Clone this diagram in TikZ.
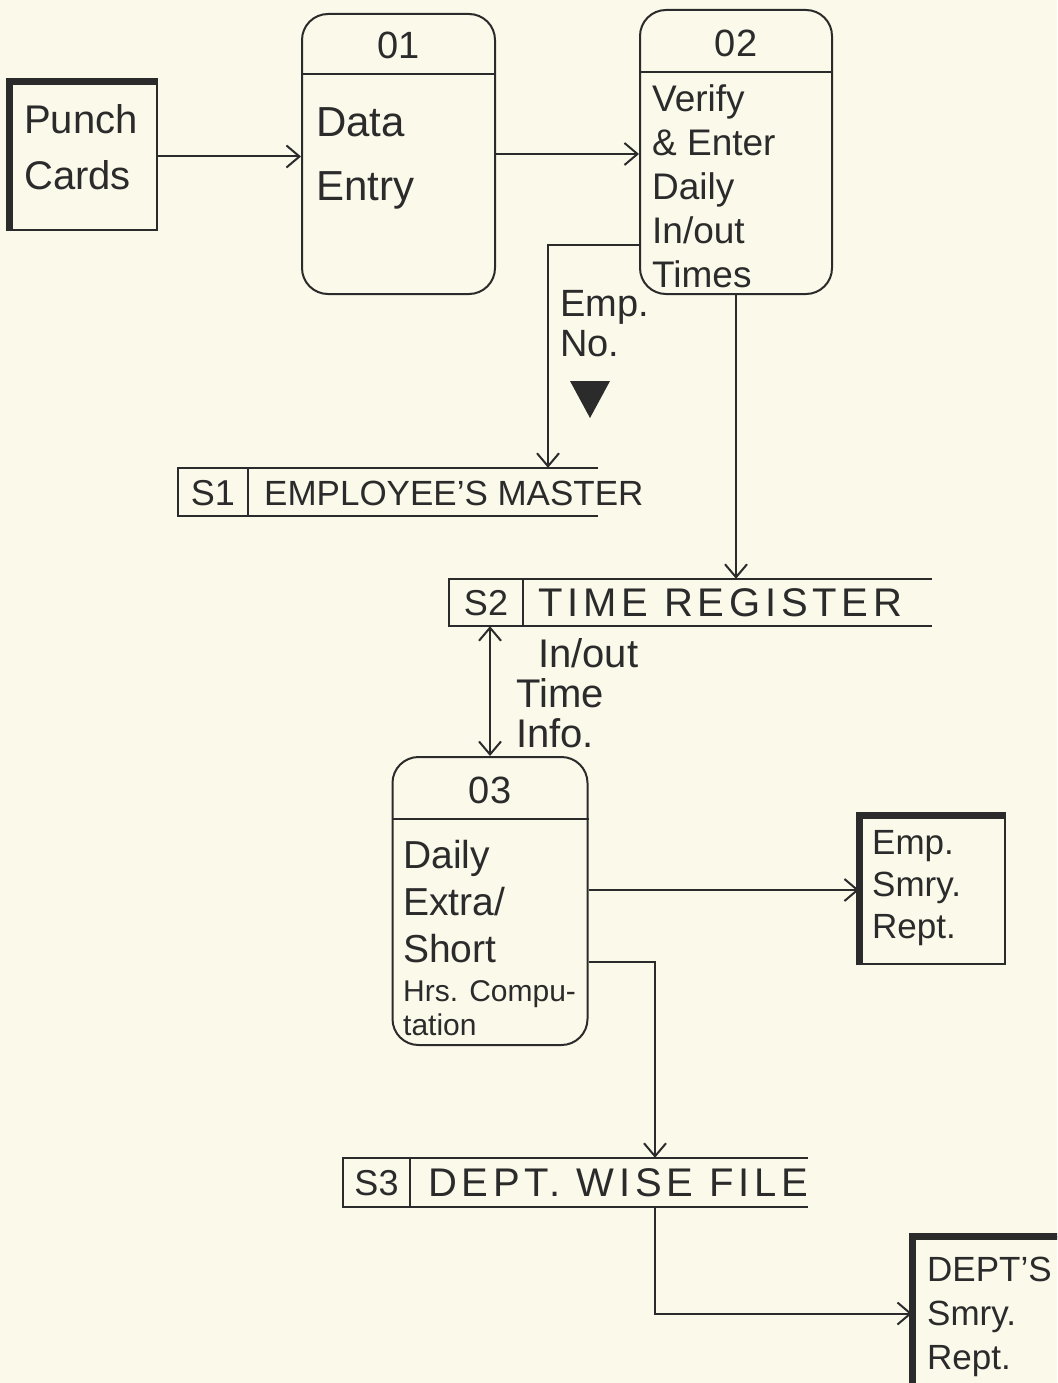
\documentclass[tikz,border=0pt]{standalone}
\usepackage{fontspec}
\setmainfont{Liberation Sans}
\usetikzlibrary{arrows.meta,calc}
\definecolor{ink}{HTML}{2B2B2B}
\definecolor{paper}{HTML}{FBF9EA}
\tikzset{
  ln/.style={draw=ink,line width=2pt},
  arr/.style={ln,-{Straight Barb[length=13pt,width=22pt,line width=2pt]}},
  barr/.style={ln,{Straight Barb[length=13pt,width=22pt,line width=2pt]}-{Straight Barb[length=13pt,width=22pt,line width=2pt]}},
  ext/.style={draw=ink,line width=2pt,rectangle,inner sep=0pt},
  thickedge/.style={draw=ink,line width=7pt,line cap=butt,line join=miter},
  proc/.style={draw=ink,line width=2pt,rectangle,rounded corners=26pt,inner sep=0pt},
  store/.style={rectangle,inner sep=0pt},
  txt/.style={text=ink,inner sep=0pt,align=left,font=\fontsize{38}{45}\selectfont},
  idtxt/.style={text=ink,inner sep=0pt,font=\fontsize{38}{45}\selectfont},
  stxt/.style={text=ink,inner sep=0pt,font=\fontsize{36}{40}\selectfont},
}
\begin{document}
\begin{tikzpicture}[x=1pt,y=-1pt]
\fill[paper] (0,0) rectangle (1057,1383);
\useasboundingbox (0,0) rectangle (1057,1383);
\clip (0,0) rectangle (1057,1383);

% external entity: Punch Cards
\node[ext,minimum width=147pt,minimum height=147pt] (pc) at (83.5,156.5) {};
\draw[thickedge] (pc.south west) -- (pc.north west) -- (pc.north east);
\node[txt,anchor=north west,font=\fontsize{40}{56}\selectfont] (pctxt) at (24,104) {Punch\\Cards};

% process 01
\node[proc,minimum width=193pt,minimum height=280pt] (p1) at (398.5,154) {};
\draw[ln] ([yshift=-61pt]p1.north west) -- ([yshift=-61pt]p1.north east);
\node[idtxt] (p1id) at (398.5,45) {01};
\node[txt,anchor=north west,font=\fontsize{42}{64}\selectfont] (p1txt) at (316,107) {Data\\Entry};

% process 02
\node[proc,minimum width=192pt,minimum height=284pt] (p2) at (736,152) {};
\draw[ln] ([yshift=-63pt]p2.north west) -- ([yshift=-63pt]p2.north east);
\node[idtxt] (p2id) at (736,43) {02};
\node[txt,anchor=north west,font=\fontsize{37}{44}\selectfont] (p2txt) at (652,84) {Verify\\\& Enter\\Daily\\In/out\\Times};

% process 03
\node[proc,minimum width=195pt,minimum height=288pt] (p3) at (490,901) {};
\draw[ln] ([yshift=-63pt]p3.north west) -- ([yshift=-63pt]p3.north east);
\node[idtxt] (p3id) at (490,790) {03};
\node[txt,anchor=north west,font=\fontsize{39}{47}\selectfont] (p3txt) at (403,840) {Daily\\Extra/\\Short};
\node[txt,anchor=north west,font=\fontsize{30}{34}\selectfont] (p3txtb) at (403,980) {Hrs. Compu-\\tation};

% data store S1
\node[store,minimum width=420pt,minimum height=48pt] (s1) at (388,492) {};
\draw[ln] (s1.north east) -- (s1.north west) -- (s1.south west) -- (s1.south east);
\draw[ln] ([xshift=70pt]s1.north west) -- ([xshift=70pt]s1.south west);
\node[stxt] (s1id) at (213,493) {S1};
\node[stxt,anchor=west,font=\fontsize{35}{38}\selectfont] (s1txt) at (264,493) {EMPLOYEE'S MASTER};

% data store S2
\node[store,minimum width=483pt,minimum height=47pt] (s2) at (690.5,602.5) {};
\draw[ln] (s2.north east) -- (s2.north west) -- (s2.south west) -- (s2.south east);
\draw[ln] ([xshift=74pt]s2.north west) -- ([xshift=74pt]s2.south west);
\node[stxt] (s2id) at (486,603) {S2};
\node[stxt,anchor=west,font=\fontsize{40}{46}\selectfont\addfontfeatures{LetterSpace=12}] (s2txt) at (538,603) {TIME REGISTER};

% data store S3
\node[store,minimum width=465pt,minimum height=49pt] (s3) at (575.5,1182.5) {};
\draw[ln] (s3.north east) -- (s3.north west) -- (s3.south west) -- (s3.south east);
\draw[ln] ([xshift=67pt]s3.north west) -- ([xshift=67pt]s3.south west);
\node[stxt] (s3id) at (376.5,1183) {S3};
\node[stxt,anchor=west,font=\fontsize{40}{46}\selectfont\addfontfeatures{LetterSpace=12}] (s3txt) at (428,1183) {DEPT. WISE FILE};

% external entity: Emp. Smry. Rept.
\node[ext,minimum width=145pt,minimum height=147pt] (er) at (932.5,890) {};
\draw[thickedge] (er.south west) -- (er.north west) -- (er.north east);
\node[txt,anchor=north west,font=\fontsize{35}{42}\selectfont] (ertxt) at (872,830) {Emp.\\Smry.\\Rept.};

% external entity: DEPT'S Smry. Rept.
\node[ext,minimum width=152pt,minimum height=153pt] (dr) at (989,1313.5) {};
\draw[thickedge] (dr.south west) -- (dr.north west) -- (dr.north east);
\node[txt,anchor=north west,font=\fontsize{35}{44}\selectfont] (drtxt) at (927,1257) {DEPT'S\\Smry.\\Rept.};

% connectors
\draw[arr] (pc.east) -- (pc.east -| p1.west);
\draw[arr] (p1.east) -- (p1.east -| p2.west);
\draw[arr] ([yshift=-93pt]p2.west) -| ([xshift=160pt]s1.north);
\draw[arr] (p2.south) -- (p2.south |- s2.north);
\draw[barr] (p3.north |- s2.south) -- (p3.north);
\draw[arr] (p3.east |- er.west) -- (er.west);
\draw[arr] ([yshift=-61pt]p3.east) -| ([xshift=79.5pt]s3.north);
\draw[arr] ([xshift=79.5pt]s3.south) |- (dr.west);

% flow labels
\node[txt,anchor=north west,font=\fontsize{38}{40}\selectfont] (empno) at (560,290) {Emp.\\No.};
\fill[ink] (570,381) -- (610,381) -- (590,418) -- cycle;
\node[txt,anchor=north west,font=\fontsize{40}{40}\selectfont] (info) at (516,638) {\hspace{22pt}In/out\\Time\\Info.};
\end{tikzpicture}
\end{document}
